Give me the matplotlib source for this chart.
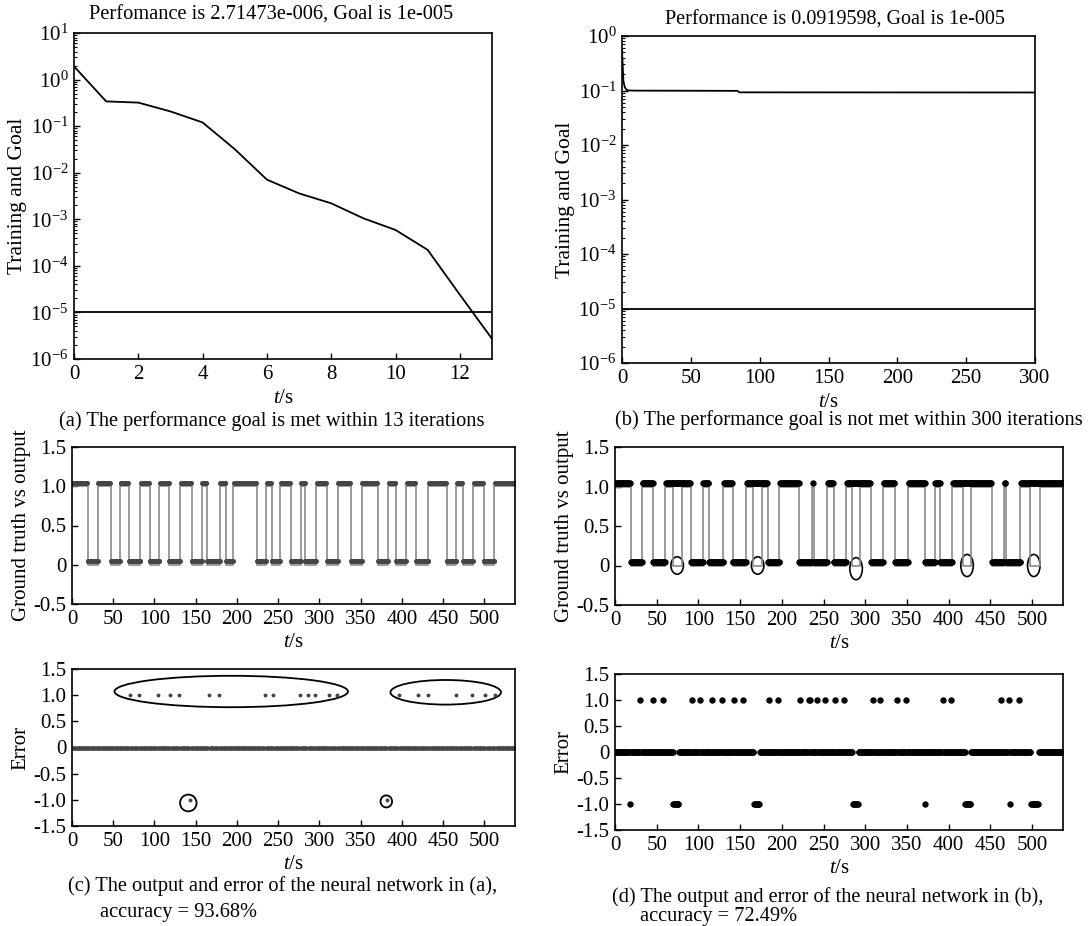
import numpy as np
import matplotlib
matplotlib.use('Agg')
import matplotlib.pyplot as plt
from matplotlib.patches import Ellipse
from matplotlib.ticker import LogLocator, NullFormatter, FixedLocator, FixedFormatter

plt.rcParams['font.family'] = ['Liberation Serif', 'DejaVu Serif']
plt.rcParams['mathtext.fontset'] = 'custom'
plt.rcParams['mathtext.rm'] = 'Liberation Serif'
plt.rcParams['mathtext.it'] = 'Liberation Serif:italic'
plt.rcParams['mathtext.bf'] = 'Liberation Serif:bold'
plt.rcParams['axes.linewidth'] = 1.2

# ---------------- data ----------------
iter_a = [0, 1, 2, 3, 4, 5, 6, 7, 8, 9, 10, 11, 12, 13]
perf_a = [1.92, 0.34, 0.32, 0.207, 0.12, 0.032, 0.0071, 0.0036, 0.0022,
          0.00105, 0.00059, 0.00022, 2.4e-5, 2.71473e-6]
goal = 1e-5

iter_b = [0, 1, 2, 3, 4, 6, 10, 84, 85, 300]
perf_b = [0.55, 0.15, 0.115, 0.105, 0.101, 0.1, 0.0995, 0.0985, 0.0925, 0.0919598]

n_samples = 537

# ground truth low (class 0) intervals
gt_low_a = [(19, 31), (47, 58), (69, 83), (94, 106), (118, 131), (145, 157),
            (164, 179), (187, 195), (224, 235), (242, 252), (265, 277),
            (283, 296), (309, 322), (338, 351), (371, 383), (393, 405),
            (417, 432), (454, 466), (474, 486), (499, 512)]
gt_low_b = [(19, 32), (46, 60), (70, 80), (91, 105), (113, 130), (141, 157),
            (166, 176), (183, 197), (221, 236), (238, 254), (262, 277),
            (284, 294), (307, 321), (336, 351), (372, 383), (390, 404),
            (417, 427), (452, 466), (469, 486), (498, 510)]
missed_b = [2, 6, 11, 16, 19]          # low intervals the network output as 1

err_pos_c = [70, 81, 104, 119, 130, 166, 178, 234, 244, 276, 286, 295, 311,
             321, 396, 420, 431, 466, 485, 501, 513]
err_neg_c = [143, 382]

err_pos_d = [30, 46, 58, 92, 102, 116, 128, 143, 154, 185, 195, 222, 232, 234,
             242, 252, 264, 275, 309, 318, 338, 349, 393, 403, 463, 472, 484]
err_neg_d = [18, 70, 71, 72, 73, 74, 75, 76, 167, 168, 169, 170, 171, 172, 173,
             285, 286, 287, 288, 289, 290, 291, 372, 420, 421, 422, 423, 424,
             425, 426, 474, 499, 500, 501, 502, 503, 504, 505, 506, 507]

# annotation ellipses (center x, center y, width, height)
ell_c = [(193, 1.07, 283, 0.60), (453, 1.055, 134, 0.47),
         (141, -1.06, 20, 0.32), (381, -1.03, 14, 0.23)]
ell_b = [(74.5, 0.0, 15, 0.22), (171, 0.0, 15, 0.22), (289, -0.04, 15, 0.28),
         (422, 0.0, 15, 0.28), (502, 0.0, 15, 0.28)]

# ---------------- figure ----------------
W, H = 1090, 926
fig = plt.figure(figsize=(W / 100, H / 100), dpi=100)


def pos(l, t, r, b):
    return [l / W, 1 - b / H, (r - l) / W, (b - t) / H]


FS = 15
CFS = 14.7


def style(ax):
    ax.tick_params(direction='in', top=False, right=False, labelsize=FS,
                   length=4, width=1, pad=4)
    ax.tick_params(which='minor', direction='in', length=2, width=0.8)


# ---- (a) ----
ax = fig.add_axes(pos(74, 33, 492, 359))
ax.semilogy(iter_a, perf_a, color='black', lw=1.3)
ax.axhline(goal, color='black', lw=1.3)
ax.set_xlim(0, 13)
ax.set_ylim(1e-6, 1e1)
ax.set_xticks([0, 2, 4, 6, 8, 10, 12])
ax.yaxis.set_major_locator(LogLocator(base=10, numticks=20))
ax.yaxis.set_minor_locator(LogLocator(base=10, subs=np.arange(2, 10), numticks=20))
ax.yaxis.set_minor_formatter(NullFormatter())
style(ax)
ax.set_ylabel('Training and Goal', fontsize=15.5, labelpad=2)
ax.set_xlabel(r'$\mathit{t}$/s', fontsize=FS, labelpad=4)
fig.text(271 / W, 1 - 15 / H, 'Perfomance is 2.71473e-006, Goal is 1e-005',
         ha='center', va='center', fontsize=14.7)
fig.text(272 / W, 1 - 421 / H, '(a) The performance goal is met within 13 iterations',
         ha='center', va='center', fontsize=CFS)

# ---- (b) ----
ax = fig.add_axes(pos(622, 36, 1035, 363))
ax.semilogy(iter_b, perf_b, color='black', lw=1.3)
ax.axhline(goal, color='black', lw=1.3)
ax.set_xlim(0, 300)
ax.set_ylim(1e-6, 1e0)
ax.set_xticks([0, 50, 100, 150, 200, 250, 300])
ax.yaxis.set_major_locator(LogLocator(base=10, numticks=20))
ax.yaxis.set_minor_locator(LogLocator(base=10, subs=np.arange(2, 10), numticks=20))
ax.yaxis.set_minor_formatter(NullFormatter())
style(ax)
ax.set_ylabel('Training and Goal', fontsize=15.5, labelpad=2)
ax.set_xlabel(r'$\mathit{t}$/s', fontsize=FS, labelpad=4)
fig.text(835 / W, 1 - 20 / H, 'Performance is 0.0919598, Goal is 1e-005',
         ha='center', va='center', fontsize=14.5)
fig.text(849 / W, 1 - 420 / H, '(b) The performance goal is not met within 300 iterations',
         ha='center', va='center', fontsize=CFS)

samples = np.arange(1, n_samples + 1)


def truth_from(lows):
    y = np.ones(n_samples)
    for s, e in lows:
        y[(samples >= s) & (samples <= e)] = 0
    return y


def step_xy(lows):
    xs, ys = [0], [1]
    for s, e in lows:
        xs += [s, s, e, e]
        ys += [1, 0, 0, 1]
    xs.append(n_samples)
    ys.append(1)
    return xs, ys


def gt_axes(ax):
    ax.set_xlim(0, n_samples)
    ax.set_ylim(-0.5, 1.5)
    ax.set_xticks(np.arange(0, 501, 50))
    ax.yaxis.set_major_locator(FixedLocator([-0.5, 0, 0.5, 1.0, 1.5]))
    ax.yaxis.set_major_formatter(FixedFormatter(['-0.5', '0', '0.5', '1.0', '1.5']))
    style(ax)
    ax.set_ylabel('Ground truth vs output', fontsize=FS, labelpad=2)
    ax.set_xlabel(r'$\mathit{t}$/s', fontsize=FS, labelpad=3)


def err_axes(ax):
    ax.set_xlim(0, n_samples)
    ax.set_ylim(-1.5, 1.5)
    ax.set_xticks(np.arange(0, 501, 50))
    ax.yaxis.set_major_locator(FixedLocator([-1.5, -1, -0.5, 0, 0.5, 1.0, 1.5]))
    ax.yaxis.set_major_formatter(FixedFormatter(['-1.5', '-1.0', '-0.5', '0', '0.5', '1.0', '1.5']))
    style(ax)
    ax.set_ylabel('Error', fontsize=FS, labelpad=2)
    ax.set_xlabel(r'$\mathit{t}$/s', fontsize=FS, labelpad=3)


# ---- (c) top: ground truth vs output ----
ax = fig.add_axes(pos(72, 447, 515, 604))
truth_a = truth_from(gt_low_a)
xs, ys = step_xy(gt_low_a)
ax.plot(xs, ys, color='#8a8a8a', lw=1.2)
out_a = np.where(truth_a > 0.5, 1.04, 0.05)
ax.plot(samples, out_a, 'o', color='#454545', ms=3.6, mew=0)
gt_axes(ax)

# ---- (d) top ----
ax = fig.add_axes(pos(615, 447, 1063, 605))
truth_b = truth_from(gt_low_b)
xs, ys = step_xy(gt_low_b)
ax.plot(xs, ys, color='#8a8a8a', lw=1.2)
out_lows_b = [iv for i, iv in enumerate(gt_low_b) if i not in missed_b]
out_b = np.where(truth_from(out_lows_b) > 0.5, 1.04, 0.05)
ax.plot(samples, out_b, 'o', color='black', ms=4.6, mew=0)
for cx, cy, w, h in ell_b:
    ax.add_patch(Ellipse((cx, cy), w, h, fill=False, ec='black', lw=1.2))
gt_axes(ax)

# ---- (c) bottom: error ----
ax = fig.add_axes(pos(72, 669, 515, 826))
mask0 = ~np.isin(samples, err_pos_c + err_neg_c)
ax.plot(samples[mask0], np.zeros(mask0.sum()), 'o', color='#454545', ms=3.0, mew=0)
ax.plot(err_pos_c, np.ones(len(err_pos_c)), 'o', color='#454545', ms=2.8, mew=0)
ax.plot(err_neg_c, -np.ones(len(err_neg_c)), 'o', color='#454545', ms=2.8, mew=0)
for cx, cy, w, h in ell_c:
    ax.add_patch(Ellipse((cx, cy), w, h, fill=False, ec='black', lw=1.3))
err_axes(ax)
fig.text(68 / W, 1 - 886 / H, '(c) The output and error of the neural network in (a),',
         ha='left', va='center', fontsize=CFS)
fig.text(100 / W, 1 - 912 / H, 'accuracy = 93.68%', ha='left', va='center', fontsize=CFS)

# ---- (d) bottom: error ----
ax = fig.add_axes(pos(615, 674, 1063, 830))
mask0 = ~np.isin(samples, err_pos_d + err_neg_d)
ax.plot(samples[mask0], np.zeros(mask0.sum()), 'o', color='black', ms=4.6, mew=0)
ax.plot(err_pos_d, np.ones(len(err_pos_d)), 'o', color='black', ms=4.6, mew=0)
ax.plot(err_neg_d, -np.ones(len(err_neg_d)), 'o', color='black', ms=4.6, mew=0)
err_axes(ax)
fig.text(612 / W, 1 - 897 / H, '(d) The output and error of the neural network in (b),',
         ha='left', va='center', fontsize=CFS)
fig.text(640 / W, 1 - 916 / H, 'accuracy = 72.49%', ha='left', va='center', fontsize=CFS)

fig.savefig('out.png', dpi=100)
